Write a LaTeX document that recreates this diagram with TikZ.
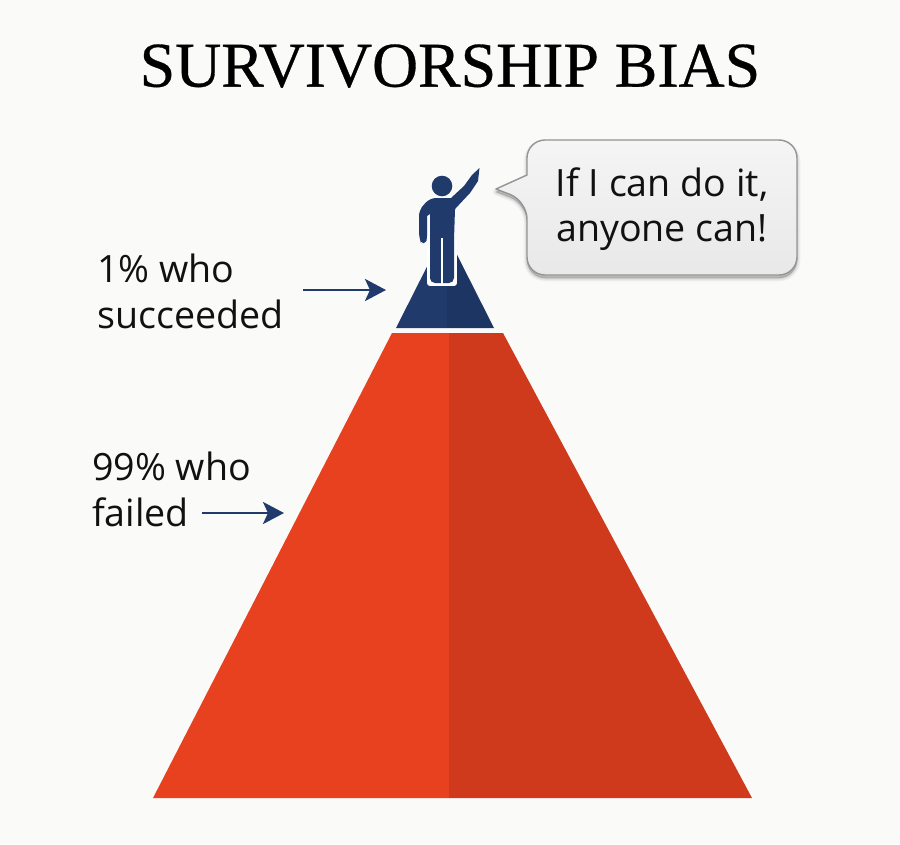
\documentclass[tikz,border=0pt]{standalone}
\usepackage{fontspec}
\setmainfont{Open Sans}
\newfontfamily\titlefont[FakeBold=0.5]{Liberation Serif}
\usetikzlibrary{arrows.meta}
\definecolor{paper}{HTML}{FAFAF8}
\definecolor{navy}{HTML}{1F3A6B}
\definecolor{navyd}{HTML}{1C3562}
\definecolor{redl}{HTML}{E84120}
\definecolor{redd}{HTML}{CF391C}
\definecolor{inktext}{HTML}{111111}
\tikzset{
  lab/.style={font=\fontsize{37.6}{46}\selectfont, text=inktext, align=left, inner sep=0pt, anchor=west},
  pointer/.style={draw=navy, line width=2.8pt, -{Stealth[length=21pt,width=22pt,inset=5pt]}},
  bubtext/.style={font=\fontsize{37.6}{45}\selectfont, text=inktext, align=center, inner sep=0pt}
}
\newcommand{\bubblepath}{(527,201) -- (496,189) -- (527,175) [rounded corners=18pt] -- (527,140) -- (797,140) -- (797,275) -- (527,275) -- cycle}
\newcommand{\figpath}{(430,214) [rounded corners=1pt] -- (430,278) [rounded corners=5pt] -- (430,283) -- (442,283) -- (454,283) [rounded corners=1pt] -- (454,240) -- (455,209) [sharp corners] -- (470,193) -- (478,181) -- (479.5,168) -- (472,175) -- (464,186) -- (451,198) [rounded corners=6pt] -- (430,198) -- (419,210) -- (419,238) [rounded corners=2pt] -- (421,243) -- (426,243) -- (427,238) [sharp corners] -- (427,216) -- cycle}
\begin{document}
\begin{tikzpicture}[x=1pt,y=-1pt]
\useasboundingbox (0,0) rectangle (900,844);
\fill[paper] (0,0) rectangle (900,844);
% title
\node[font=\titlefont\fontsize{63.8}{70}\selectfont, text=black, inner sep=0pt] (title) at (450,66) {SURVIVORSHIP BIAS};
% red pyramid
\fill[redl] (392,333) -- (449,333) -- (449,798) -- (153,798) -- cycle;
\fill[redd] (449,333) -- (503,333) -- (752,798) -- (449,798) -- cycle;
% navy tip
\fill[navy] (396,328) -- (445,231) -- (447,231) -- (447,328) -- cycle;
\fill[navyd] (447,328) -- (447,231) -- (445,231) -- (494,328) -- cycle;
% figure
\draw[white, line width=6pt, line join=round] (430,240) -- (430,283) -- (454,283) -- (454,240);
\fill[navy] \figpath;
\fill[navy] (442,186) circle[radius=10.3];
\draw[white, line width=2pt] (442,238) -- (442,286);
% bubble shadow
\foreach \d/\o in {7/0.03,5/0.04,3/0.05,1/0.07}{
  \draw[black, opacity=\o, line width=\d pt, fill=black, line join=round] [shift={(0,3)}] \bubblepath;
}
\shade[top color=black!4, bottom color=black!9] \bubblepath;
\draw[draw=black!42, line width=1.4pt, line join=round] \bubblepath;
\node[bubtext] (speech) at (662,209) {If I can do it,\\anyone can!};
% labels
\node[lab] (succ) at (97,291) {1\% who\\succeeded};
\node[lab] (fail) at (92,489) {99\% who\\failed};
\coordinate (a1s) at (303,290);
\coordinate (a1e) at (386,290);
\coordinate (a2s) at (202,513);
\coordinate (a2e) at (284,513);
\draw[pointer] (a1s) -- (a1e);
\draw[pointer] (a2s) -- (a2e);
\end{tikzpicture}
\end{document}
